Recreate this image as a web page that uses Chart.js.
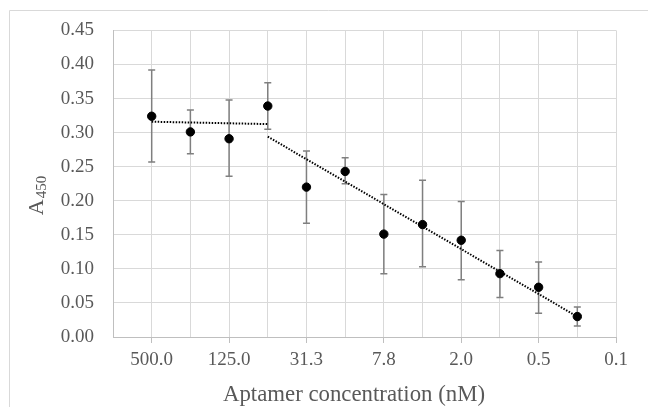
<!DOCTYPE html>
<html><head><meta charset="utf-8">
<script src="https://cdn.jsdelivr.net/npm/chart.js@4/dist/chart.umd.min.js"></script>
<style>html,body{margin:0;padding:0;background:#fff}#wrap{width:648px;height:407px;position:relative}</style>
</head><body><div id="wrap"><canvas id="c" width="648" height="407"></canvas></div>
<script>
// Aptamer concentrations (nM), one per category slot on the x axis
const concentrations = ['500.0','250.0','125.0','62.5','31.3','15.6','7.8','3.9','2.0','1.0','0.5','0.2','0.1'];
// Only every second concentration is labelled
const labelledConcentrations = ['500.0','125.0','31.3','7.8','2.0','0.5','0.1'];
// Mean absorbance at 450 nm
const a450 = [0.324, 0.301, 0.291, 0.339, 0.220, 0.243, 0.151, 0.165, 0.142, 0.093, 0.073, 0.030];
// Error bar ends
const errHigh = [0.392, 0.333, 0.348, 0.373, 0.273, 0.263, 0.209, 0.230, 0.199, 0.127, 0.110, 0.044];
const errLow  = [0.257, 0.269, 0.236, 0.305, 0.167, 0.225, 0.093, 0.103, 0.084, 0.058, 0.035, 0.016];
// Linear trend lines (start / end category index and value)
const trend1Idx = [0, 3];  const trend1Val = [0.316, 0.3125];
const trend2Idx = [3, 11]; const trend2Val = [0.294, 0.030];
const yTitle = 'A';
const yTitleSub = '450';
const xTitle = 'Aptamer concentration (nM)';

const FONT = '"Liberation Serif", "Times New Roman", serif';
const GREY_TXT = '#595959';

const pos = i => i + 1; // category slot position on the axis

const pointData = a450.map((v, i) => ({x: pos(i), y: v}));
const t1 = trend1Idx.map((ix, k) => ({x: pos(ix), y: trend1Val[k]}));
const t2 = trend2Idx.map((ix, k) => ({x: pos(ix), y: trend2Val[k]}));

const framePlugin = {
  id: 'frame',
  beforeDraw(chart) {
    const ctx = chart.ctx;
    ctx.save();
    ctx.strokeStyle = '#d9d9d9';
    ctx.lineWidth = 1;
    ctx.beginPath();
    ctx.moveTo(9.5, 407); ctx.lineTo(9.5, 10.5); ctx.lineTo(648, 10.5);
    ctx.stroke();
    ctx.restore();
  }
};

const errorBarPlugin = {
  id: 'errorBars',
  beforeDatasetsDraw(chart) {
    const ctx = chart.ctx, xs = chart.scales.x, ys = chart.scales.y;
    ctx.save();
    ctx.strokeStyle = '#7f7f7f';
    ctx.lineWidth = 1.5;
    a450.forEach((v, i) => {
      const x = xs.getPixelForValue(pos(i));
      const yh = ys.getPixelForValue(errHigh[i]);
      const yl = ys.getPixelForValue(errLow[i]);
      ctx.beginPath();
      ctx.moveTo(x, yh); ctx.lineTo(x, yl);
      ctx.moveTo(x - 3.5, yh); ctx.lineTo(x + 3.5, yh);
      ctx.moveTo(x - 3.5, yl); ctx.lineTo(x + 3.5, yl);
      ctx.stroke();
    });
    ctx.restore();
  }
};

const titlesPlugin = {
  id: 'titles',
  afterDraw(chart) {
    const ctx = chart.ctx;
    ctx.save();
    ctx.fillStyle = GREY_TXT;
    // x title
    ctx.font = '22.8px ' + FONT;
    ctx.textAlign = 'center';
    ctx.textBaseline = 'alphabetic';
    ctx.fillText(xTitle, 354, 401);
    // y title with subscript
    ctx.translate(43, 196);
    ctx.rotate(-Math.PI / 2);
    ctx.textAlign = 'left';
    ctx.font = '22px ' + FONT;
    const wA = ctx.measureText(yTitle).width;
    ctx.font = '15px ' + FONT;
    const wS = ctx.measureText(yTitleSub).width;
    const start = -(wA + wS) / 2;
    ctx.font = '22px ' + FONT;
    ctx.fillText(yTitle, start, 0);
    ctx.font = '15px ' + FONT;
    ctx.fillText(yTitleSub, start + wA + 1, 3);
    ctx.restore();
  }
};

new Chart(document.getElementById('c'), {
  type: 'scatter',
  data: {
    datasets: [
      {
        data: pointData,
        backgroundColor: '#000', borderColor: '#000',
        pointRadius: 4.2, pointHoverRadius: 4.2, order: 1
      },
      {
        type: 'line', data: t1, borderColor: '#000', borderWidth: 2,
        borderDash: [1.5, 1.5], pointRadius: 0, fill: false, order: 2
      },
      {
        type: 'line', data: t2, borderColor: '#000', borderWidth: 2,
        borderDash: [1.5, 1.5], pointRadius: 0, fill: false, order: 2
      }
    ]
  },
  options: {
    responsive: false,
    devicePixelRatio: 1,
    animation: false,
    events: [],
    layout: { padding: { left: 0, top: 27, right: 32, bottom: 0 } },
    plugins: { legend: { display: false }, tooltip: { enabled: false } },
    scales: {
      x: {
        type: 'linear', min: 0, max: concentrations.length,
        afterFit(s) { s.height = 70; },
        afterBuildTicks(s) {
          s.ticks = [];
          for (let v = 0; v <= concentrations.length; v++) s.ticks.push({value: v});
        },
        ticks: {
          autoSkip: false, maxRotation: 0, minRotation: 0,
          color: GREY_TXT, font: { family: FONT, size: 19 }, padding: 6,
          callback(v) {
            const i = v - 1;
            if (i < 0 || i % 2 !== 0) return '';
            return labelledConcentrations[i / 2];
          }
        },
        grid: {
          color: '#d9d9d9', lineWidth: 1, tickLength: 6,
          tickColor(ctx) {
            const v = ctx.tick ? ctx.tick.value : 0;
            return (v >= 1 && (v - 1) % 2 === 0) ? '#bfbfbf' : 'rgba(0,0,0,0)';
          }
        },
        border: { color: '#bfbfbf', width: 1 }
      },
      y: {
        min: 0, max: 0.45,
        afterFit(s) { s.width = 113; },
        ticks: {
          stepSize: 0.05, color: GREY_TXT, font: { family: FONT, size: 19 }, padding: 19,
          callback(v) { return Number(v).toFixed(2); }
        },
        grid: { color: '#d9d9d9', lineWidth: 1, drawTicks: false },
        border: { color: '#bfbfbf', width: 1 }
      }
    }
  },
  plugins: [framePlugin, errorBarPlugin, titlesPlugin]
});
</script>
</body></html>
